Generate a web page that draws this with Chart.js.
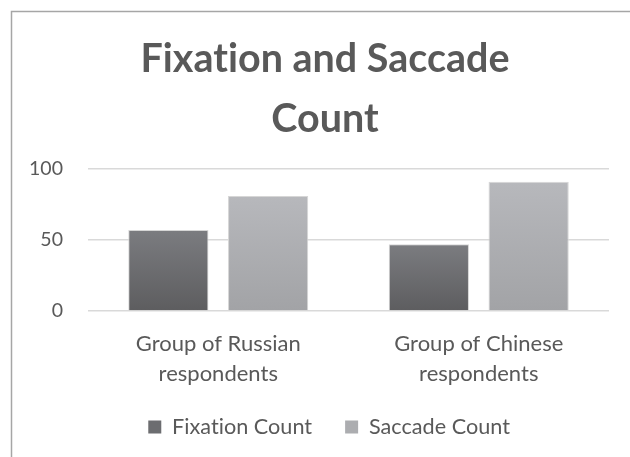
<!DOCTYPE html>
<html>
<head>
<meta charset="utf-8">
<script src="https://cdn.jsdelivr.net/npm/chart.js@4/dist/chart.umd.min.js"></script>
<style>
  html, body { margin: 0; padding: 0; background: #ffffff; overflow: hidden; }
  canvas { display: block; font-variant-ligatures: none; }
</style>
</head>
<body>
<canvas id="c" width="630" height="457"></canvas>
<script>
// ---- data ----
const categories = [['Group of Russian', 'respondents'], ['Group of Chinese', 'respondents']];
const seriesNames = ['Fixation Count', 'Saccade Count'];
const fixationCounts = [57, 47];
const saccadeCounts = [81, 91];
const yMin = 0, yMax = 100, yStep = 50;
const titleLines = ['Fixation and Saccade', 'Count'];

// ---- style helpers ----
const FAMILY = 'Lato, "Open Sans", sans-serif';
const TEXT = '#595959';
const SPACING = '0.01px'; // non-zero letter spacing turns off the "ti" ligature
function fitSize(text, weight, target) {
  const c = document.createElement('canvas').getContext('2d');
  c.font = weight + ' 100px ' + FAMILY;
  if ('letterSpacing' in c) c.letterSpacing = SPACING;
  return 100 * target / c.measureText(text).width;
}
const titleSize = fitSize('Fixation and Saccade', 'bold', 369);
const tickSize = fitSize('100', 'normal', 34);
const catSize = fitSize('Group of Russian', 'normal', 165);
const legendSize = fitSize('Fixation Count', 'normal', 140);

function barGradient(context, top, bottom) {
  const chart = context.chart;
  if (!chart.chartArea || context.type !== 'data') return bottom;
  const y = chart.scales.y;
  const yTop = y.getPixelForValue(context.raw);
  const yBase = y.getPixelForValue(0);
  const g = chart.ctx.createLinearGradient(0, yTop, 0, yBase);
  g.addColorStop(0, top);
  g.addColorStop(1, bottom);
  return g;
}

const frame = {
  id: 'frame',
  afterLayout(chart) {
    // centre title and legend on the original chart frame
    const t = chart.titleBlock;
    t.left = 11; t.right = 639;
    const lg = chart.legend;
    const p = lg.options.labels.padding;
    const h = lg.height;
    lg.left = 29; lg.right = 629;
    lg.top = 427 - p - legendSize / 2;
    lg.bottom = lg.top + h;
  },
  beforeDraw(chart) {
    const ctx = chart.ctx;
    if ('letterSpacing' in ctx) ctx.letterSpacing = SPACING;
    ctx.save();
    ctx.fillStyle = '#ffffff';
    ctx.fillRect(0, 0, chart.width, chart.height);
    ctx.strokeStyle = '#a6a6a6';
    ctx.lineWidth = 1.5;
    ctx.beginPath();
    ctx.moveTo(630, 11.5);
    ctx.lineTo(11.5, 11.5);
    ctx.lineTo(11.5, 457);
    ctx.stroke();
    ctx.restore();
  }
};

const legendColors = ['#6c6d70', '#acadb0'];

new Chart(document.getElementById('c'), {
  type: 'bar',
  data: {
    labels: categories,
    datasets: [
      {
        label: seriesNames[0],
        data: fixationCounts,
        backgroundColor: ctx => barGradient(ctx, '#7b7c80', '#5d5d5f'),
        borderColor: '#d6d6d6',
        borderWidth: 1
      },
      {
        label: seriesNames[1],
        data: saccadeCounts,
        backgroundColor: ctx => barGradient(ctx, '#b7b8bc', '#a2a3a6'),
        borderColor: '#d6d6d6',
        borderWidth: 1
      }
    ]
  },
  options: {
    responsive: false,
    animation: false,
    devicePixelRatio: 1,
    categoryPercentage: 0.766,
    barPercentage: 0.804,
    layout: { padding: { left: 0, right: 21, top: 0, bottom: 0 } },
    plugins: {
      title: {
        display: true,
        text: titleLines,
        color: TEXT,
        font: { family: FAMILY, weight: 'bold', size: titleSize, lineHeight: '60px' },
        padding: { top: 29, bottom: 20 }
      },
      legend: {
        display: true,
        position: 'bottom',
        labels: {
          color: TEXT,
          font: { family: FAMILY, size: legendSize },
          boxWidth: 13,
          boxHeight: 13,
          padding: 33,
          generateLabels(chart) {
            const items = Chart.defaults.plugins.legend.labels.generateLabels(chart);
            items.forEach((it, i) => { it.fillStyle = legendColors[i]; it.lineWidth = 0; it.strokeStyle = 'rgba(0,0,0,0)'; });
            return items;
          }
        }
      },
      tooltip: { enabled: false }
    },
    scales: {
      x: {
        grid: { display: false, drawTicks: false },
        border: { display: false },
        ticks: {
          color: TEXT,
          font: { family: FAMILY, size: catSize, lineHeight: '30px' },
          padding: 18,
          maxRotation: 0,
          autoSkip: false
        },
        afterFit(scale) {
          scale.height = 457 - 311 - scale.chart.legend.height;
        }
      },
      y: {
        min: yMin,
        max: yMax,
        grid: { color: '#d9d9d9', lineWidth: 1.5, drawTicks: false },
        border: { display: false },
        ticks: {
          stepSize: yStep,
          color: TEXT,
          font: { family: FAMILY, size: tickSize },
          padding: 25
        },
        afterFit(scale) {
          scale.width = 88;
        }
      }
    }
  },
  plugins: [frame]
});
</script>
</body>
</html>
